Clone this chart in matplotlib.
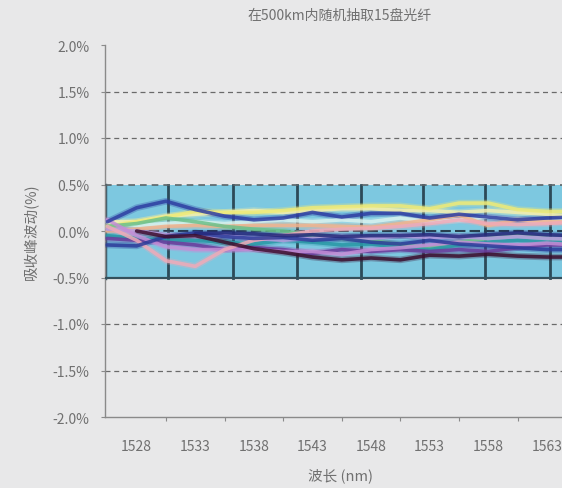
"""
吸收峰波动 chart: 15 fibres sampled within 500 km.
"""
import numpy as np
import matplotlib.pyplot as plt

plt.rcParams['font.family'] = ['Noto Sans CJK SC', 'DejaVu Sans']

# wavelength samples (nm) shared by all traces
wl = [1525.5, 1528, 1530.5, 1533, 1535.5, 1538, 1540.5, 1543, 1545.5,
      1548, 1550.5, 1553, 1555.5, 1558, 1560.5, 1563, 1565.5]

# peak fluctuation in %, one list per fibre (nan = not drawn)
blue_hi = [0.10, 0.25, 0.32, 0.23, 0.16, 0.12, 0.14, 0.20, 0.15, 0.19, 0.19, 0.14, 0.18, 0.15, 0.12, 0.14, 0.15]
blue_lo = [-0.15, -0.16, -0.06, -0.02, -0.06, -0.08, -0.07, -0.10, -0.08, -0.12, -0.14, -0.10, -0.14, -0.16, -0.18, -0.20, -0.20]
pink = [0.05, -0.10, -0.32, -0.38, -0.20, -0.10, -0.05, 0.00, 0.02, 0.03, 0.05, 0.08, 0.12, 0.08, 0.07, 0.08, 0.10]
lavender = [0.12, -0.05, -0.17, -0.20, -0.20, -0.20, -0.22, -0.22, -0.25, -0.20, -0.18, -0.15, -0.12, -0.14, -0.15, -0.13, -0.15]
maroon = [np.nan, 0.00, -0.06, -0.05, -0.12, -0.19, -0.23, -0.28, -0.31, -0.29, -0.31, -0.26, -0.27, -0.25, -0.27, -0.28, -0.28]
yellow = [0.05, 0.10, 0.15, 0.21, 0.20, 0.20, 0.22, 0.25, 0.26, 0.27, 0.27, 0.24, 0.30, 0.30, 0.23, 0.21, 0.21]
cream = [0.10, 0.10, 0.16, 0.18, 0.20, 0.22, 0.20, 0.22, 0.24, 0.24, 0.22, 0.22, 0.20, 0.22, 0.20, 0.18, 0.15]
green = [0.05, 0.08, 0.14, 0.10, 0.05, 0.02, 0.00, -0.05, -0.08, -0.10, -0.15, -0.18, -0.12, -0.08, -0.05, -0.08, -0.10]
salmon = [0.00, 0.02, 0.05, 0.06, 0.05, 0.06, 0.06, 0.06, 0.05, 0.04, 0.08, 0.12, 0.17, 0.06, 0.12, 0.10, 0.10]
pale = [0.10, 0.06, 0.08, 0.10, 0.08, 0.10, 0.12, 0.10, 0.12, 0.10, 0.14, 0.10, 0.12, 0.15, 0.12, 0.10, 0.12]
teal = [-0.05, -0.08, -0.10, -0.10, -0.12, -0.14, -0.10, -0.12, -0.15, -0.14, -0.18, -0.20, -0.15, -0.12, -0.10, -0.12, -0.12]
purple = [-0.08, -0.10, -0.12, -0.15, -0.20, -0.18, -0.20, -0.24, -0.20, -0.22, -0.20, -0.22, -0.20, -0.22, -0.18, -0.15, -0.15]
navy = [np.nan, np.nan, np.nan, -0.03, -0.02, -0.03, -0.05, -0.04, -0.06, -0.05, -0.05, -0.04, -0.06, -0.04, -0.02, -0.04, -0.05]
lilac = [0.02, 0.00, -0.04, -0.06, -0.05, -0.08, -0.10, -0.08, -0.06, -0.08, -0.05, -0.07, -0.06, -0.08, -0.06, -0.08, -0.09]

traces = [
    (pale, '#d8f2ee'), (cream, '#f3efb0'), (yellow, '#eeea78'), (salmon, '#f2b48e'),
    (green, '#6cc08a'), (teal, '#2a98a6'), (lilac, '#b79ce0'), (purple, '#6a3c9c'),
    (lavender, '#c58ed6'), (pink, '#f0aab8'), (blue_lo, '#2c3c9a'), (navy, '#262a7c'),
    (maroon, '#3c0e2e'), (blue_hi, '#2e3ea2'),
]

y_ticks = [-2.0, -1.5, -1.0, -0.5, 0.0, 0.5, 1.0, 1.5, 2.0]
x_labels = [1528, 1533, 1538, 1543, 1548, 1553, 1558, 1563]
x_marks = [1530.5, 1535.5, 1540.5, 1545.5, 1550.5, 1555.5, 1560.5]
band_lines = [1530.65, 1536.2, 1541.7, 1547.1, 1552.4, 1557.7, 1563.3]

bg = '#e8e8e9'
txt = '#707070'

fig = plt.figure(figsize=(5.62, 4.89), dpi=100, facecolor=bg)
ax = fig.add_axes([105 / 562, 1 - 418 / 489, 470 / 562, 372 / 489], facecolor=bg)
ax.set_xlim(1525.3, 1565.4)
ax.set_ylim(-2.0, 2.0)

# light blue band between -0.5% and 0.5%
ax.axhspan(-0.5, 0.5, color='#7dc8e0', zorder=1, lw=0)
for xb in band_lines:
    ax.plot([xb, xb], [-0.5, 0.5], color='#2c4a58', lw=2.0, zorder=2)
ax.plot([1525.3, 1525.3], [-0.5, 0.5], color='#3a5866', lw=2.5, zorder=2)

for yv in [-1.5, -1.0, 1.5, 1.0]:
    ax.axhline(yv, color='#6a6a6a', lw=0.9, ls=(0, (4, 3)), zorder=2)
ax.axhline(0.5, color='#5a6468', lw=1.2, ls=(0, (4, 3)), zorder=5)
ax.axhline(-0.5, color='#34505c', lw=1.6, zorder=5)
ax.axhline(0.0, color='#284050', lw=1.5, ls=(0, (5, 2)), zorder=2)

for vals, col in traces:
    ax.plot(wl, vals, color=col, lw=4.8, alpha=0.3, zorder=3, solid_capstyle='round')
    ax.plot(wl, vals, color=col, lw=2.6, alpha=0.85, zorder=4, solid_capstyle='round')

ax.spines['top'].set_visible(False)
ax.spines['right'].set_visible(False)
for s in ['left', 'bottom']:
    ax.spines[s].set_color('#8a8a8a')
    ax.spines[s].set_linewidth(1.0)

ax.set_yticks(y_ticks)
ax.set_yticklabels([f'{v:.1f}%' for v in y_ticks])
ax.tick_params(axis='y', length=3, width=0.8, color='#8a8a8a', pad=8,
               labelsize=10, labelcolor=txt)

ax.set_xticks(x_marks)
ax.set_xticklabels([])
ax.set_xticks(x_labels, minor=True)
ax.set_xticklabels([str(v) for v in x_labels], minor=True)
ax.tick_params(axis='x', which='major', length=3, width=0.8, color='#8a8a8a')
ax.tick_params(axis='x', which='minor', length=0, pad=16, labelsize=10, labelcolor=txt)

ax.set_xlabel('波长 (nm)', fontsize=10.5, color=txt, labelpad=10)
ax.set_ylabel('吸收峰波动(%)', fontsize=10.5, color=txt, labelpad=10)
ax.set_title('在500km内随机抽取15盘光纤', fontsize=10, color=txt, pad=19)

fig.savefig('out.png', dpi=100, facecolor=bg)
